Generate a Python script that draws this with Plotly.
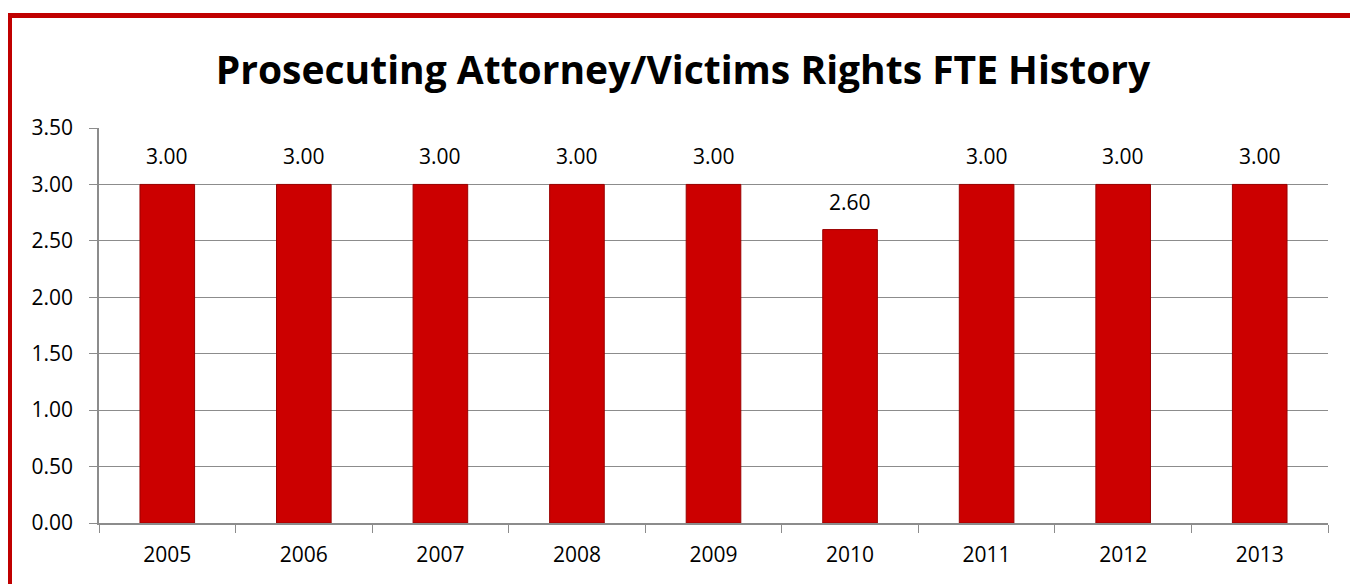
import plotly.graph_objects as go

years = ["2005", "2006", "2007", "2008", "2009", "2010", "2011", "2012", "2013"]
fte = [3.00, 3.00, 3.00, 3.00, 3.00, 2.60, 3.00, 3.00, 3.00]
title_text = "Prosecuting Attorney/Victims Rights FTE History"

# page body has an 8px margin, so work in figure-local pixels
OFF = 8
W, H = 1358 - OFF, 584 - OFF
ML, MR, MT, MB = 99 - OFF, 30, 128 - OFF, 61
pw = W - ML - MR
ph = H - MT - MB

def px_x(x):
    return (x - OFF - ML) / pw

def px_y(y):
    return (H + OFF - MB - y) / ph

FONT = "Open Sans"

fig = go.Figure()
fig.add_trace(go.Bar(
    x=years, y=fte,
    marker=dict(color="#CC0000", line=dict(color="#9A0000", width=1)),
    cliponaxis=False,
))

# value labels placed on the category positions (index along the category axis)
for i, v in enumerate(fte):
    fig.add_annotation(x=i, y=v, xref="x", yref="y", text=f"{v:.2f}", showarrow=False,
                       xanchor="center", yanchor="bottom", yshift=12,
                       font=dict(family=FONT, size=21, color="#000000"))

fig.update_layout(
    width=W, height=H,
    margin=dict(l=ML, r=MR, t=MT, b=MB, autoexpand=False),
    paper_bgcolor="white", plot_bgcolor="white",
    bargap=0.6,
    showlegend=False,
    title=dict(text="<b>" + title_text + "</b>", x=0.5, xanchor="center",
               y=1 - (70 - OFF) / H, yanchor="middle",
               font=dict(family=FONT, size=39, color="#000000")),
    font=dict(family=FONT, size=21, color="#000000"),
)
fig.update_xaxes(
    type="category", categoryorder="array", categoryarray=years,
    range=[-0.5, len(years) - 0.5], autorange=False,
    showline=True, linecolor="#8C8C8C", linewidth=1.5,
    ticks="outside", ticklen=8, tickcolor="#8C8C8C", tickson="boundaries",
    tickfont=dict(family=FONT, size=21, color="#000000"),
    ticklabelstandoff=12, tickangle=0,
    showgrid=False,
)
fig.update_yaxes(
    range=[0, 3.5], dtick=0.5, tickformat=".2f",
    showline=True, linecolor="#8C8C8C", linewidth=1.5,
    ticks="outside", ticklen=8, tickcolor="#8C8C8C",
    ticklabelstandoff=12,
    showgrid=True, gridcolor="#8C8C8C", gridwidth=1,
    tickfont=dict(family=FONT, size=21, color="#000000"),
    zeroline=False,
)

# outer dark-red frame
fig.add_shape(type="rect", xref="paper", yref="paper",
              x0=px_x(9.5), x1=px_x(1355.5), y0=px_y(600), y1=px_y(15.5),
              line=dict(color="#C00000", width=5), fillcolor="rgba(0,0,0,0)",
              layer="above")

fig.write_html("out.html")
